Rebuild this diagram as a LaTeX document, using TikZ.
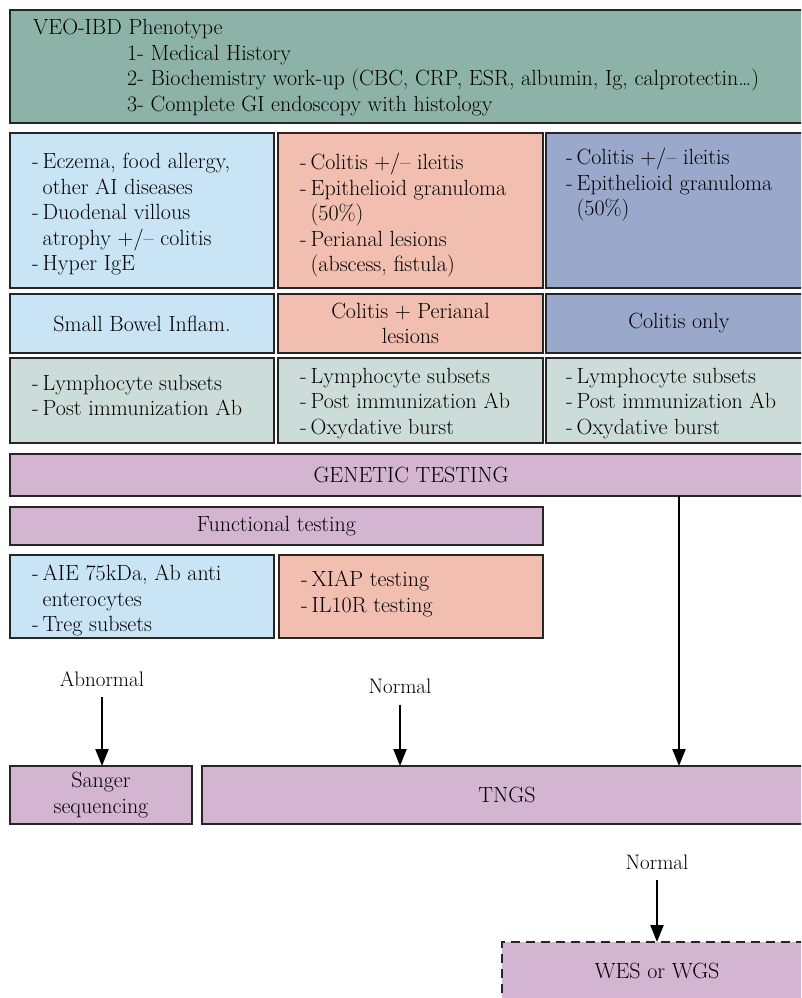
\documentclass[tikz,border=0pt]{standalone}
\usetikzlibrary{arrows.meta}
\definecolor{phenocol}{HTML}{8DB3A8}
\definecolor{skyblue}{HTML}{C9E4F5}
\definecolor{salmon}{HTML}{F2BEB0}
\definecolor{slate}{HTML}{9AA8CC}
\definecolor{sage}{HTML}{CCDDD9}
\definecolor{mauve}{HTML}{D3B4D1}
\tikzset{
  box/.style={draw=black!85, line width=2.4pt, inner sep=0pt, outer sep=0pt,
    anchor=north west, align=center, font=\fontsize{22}{25.5}\selectfont},
  txt/.style={inner sep=0pt, anchor=north west, align=left, font=\fontsize{22}{25.5}\selectfont},
  lbl/.style={inner sep=0pt, font=\fontsize{21}{25.5}\selectfont},
  arr/.style={line width=2.2pt, -{Triangle[width=13pt,length=17pt]}}
}
\newcommand{\bx}[7]{\node[box, fill=#6, minimum width={(#4-#2)*1pt}, minimum height={(#5-#3)*1pt}] (#1) at (#2,#3) {#7};}
\newcommand{\dsh}{\makebox[10.5pt][l]{-}}
\newcommand{\cnt}{\hspace*{10.5pt}}

\begin{document}
\begin{tikzpicture}[x=1pt,y=-1pt]
  \useasboundingbox (0,0) rectangle (801,998);
  \clip (0,0) rectangle (801,998);
  %%%%% boxes %%%%%
  \bx{pheno}{10}{10}{812}{123}{phenocol}{}
  
  \bx{clinA}{10}{133}{274}{288}{skyblue}{}
  \bx{clinB}{278}{133}{543}{288}{salmon}{}
  \bx{clinC}{546}{133}{812}{288}{slate}{}
  
  \bx{typeA}{10}{294}{274}{353}{skyblue}{Small Bowel Inflam.}
  \bx{typeB}{278}{294}{543}{353}{salmon}{Colitis + Perianal\\lesions}
  \bx{typeC}{546}{294}{812}{353}{slate}{Colitis only}
  
  \bx{immA}{10}{358}{274}{443}{sage}{}
  \bx{immB}{278}{358}{543}{443}{sage}{}
  \bx{immC}{546}{358}{812}{443}{sage}{}
  
  \bx{genetic}{10}{454}{812}{496}{mauve}{GENETIC TESTING}
  \bx{funct}{10}{507}{543}{545}{mauve}{Functional testing}
  
  \bx{fnA}{10}{555}{274}{638}{skyblue}{}
  \bx{fnB}{279}{555}{543}{638}{salmon}{}
  
  \bx{sanger}{10}{766}{192}{824}{mauve}{Sanger\\sequencing}
  \bx{tngs}{202}{766}{812}{824}{mauve}{TNGS}
  \node[box, fill=mauve, dash pattern=on 9pt off 6pt, minimum width=310pt,
    minimum height=58pt] (wes) at (502,942) {WES or WGS};
  
  %%%%% texts %%%%%
  \node[txt] (phenoT) at (33,19) {VEO-IBD Phenotype\\
    \hspace*{94pt}1- Medical History\\
    \hspace*{94pt}2- Biochemistry work-up (CBC, CRP, ESR, albumin, Ig, calprotectin\ldots)\\
    \hspace*{94pt}3- Complete GI endoscopy with histology};
  
  \node[txt] (clinAT) at (32,153) {\dsh Eczema, food allergy,\\ \cnt other AI diseases\\
    \dsh Duodenal villous\\ \cnt atrophy +/-- colitis\\ \dsh Hyper IgE};
  \node[txt] (clinBT) at (300,153) {\dsh Colitis +/-- ileitis\\ \dsh Epithelioid granuloma\\
    \cnt (50\%)\\ \dsh Perianal lesions\\ \cnt (abscess, fistula)};
  \node[txt] (clinCT) at (566,148) {\dsh Colitis +/-- ileitis\\ \dsh Epithelioid granuloma\\
    \cnt (50\%)};
  
  \node[txt] (immAT) at (32,375) {\dsh Lymphocyte subsets\\ \dsh Post immunization Ab};
  \node[txt] (immBT) at (300,368) {\dsh Lymphocyte subsets\\ \dsh Post immunization Ab\\
    \dsh Oxydative burst};
  \node[txt] (immCT) at (566,368) {\dsh Lymphocyte subsets\\ \dsh Post immunization Ab\\
    \dsh Oxydative burst};
  
  \node[txt] (fnAT) at (32,565) {\dsh AIE 75kDa, Ab anti\\ \cnt enterocytes\\ \dsh Treg subsets};
  \node[txt] (fnBT) at (301,571) {\dsh XIAP testing\\ \dsh IL10R testing};
  
  \node[lbl] (abn) at (102,679) {Abnormal};
  \node[lbl] (norm) at (400,686) {Normal};
  \node[lbl] (normW) at (657,862) {Normal};
  \coordinate (drop) at (679,500);
  
  %%%%% arrows %%%%%
  \draw[arr] ([yshift=-10pt]abn.south) -- (abn.south |- sanger.north);
  \draw[arr] ([yshift=-11pt]norm.south) -- (norm.south |- tngs.north);
  \draw[arr] (drop |- genetic.south) -- (drop |- tngs.north);
  \draw[arr] ([yshift=-10pt]normW.south) -- (normW.south |- wes.north);
\end{tikzpicture}
\end{document}
